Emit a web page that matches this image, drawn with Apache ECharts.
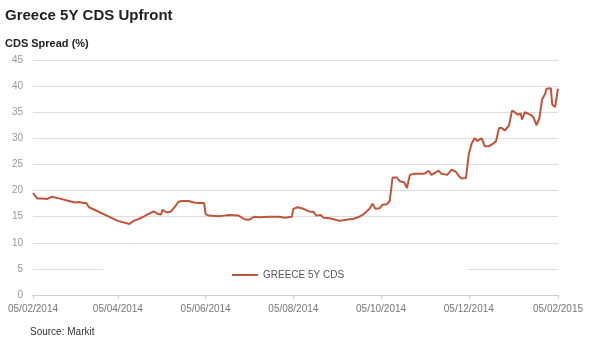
<!DOCTYPE html>
<html>
<head>
<meta charset="utf-8">
<script src="https://cdn.jsdelivr.net/npm/echarts@6/dist/echarts.min.js"></script>
<style>
html,body{margin:0;padding:0;background:#fff;}
#c{width:590px;height:346px;}
</style>
</head>
<body>
<div id="c"></div>
<script>
var dates = ['2014-02-05','2014-02-08','2014-02-09','2014-02-11','2014-02-15','2014-02-18','2014-02-23','2014-03-02','2014-03-06','2014-03-09','2014-03-12','2014-03-14','2014-03-16','2014-04-05','2014-04-13','2014-04-16','2014-04-19','2014-04-23','2014-04-26','2014-04-30','2014-05-03','2014-05-05','2014-05-06','2014-05-09','2014-05-12','2014-05-15','2014-05-17','2014-05-19','2014-05-24','2014-05-28','2014-05-31','2014-06-04','2014-06-05','2014-06-07','2014-06-14','2014-06-18','2014-06-21','2014-06-28','2014-07-02','2014-07-05','2014-07-09','2014-07-12','2014-07-19','2014-07-26','2014-07-30','2014-08-04','2014-08-05','2014-08-08','2014-08-12','2014-08-16','2014-08-19','2014-08-21','2014-08-24','2014-08-26','2014-08-30','2014-09-02','2014-09-06','2014-09-09','2014-09-13','2014-09-16','2014-09-20','2014-09-23','2014-09-27','2014-09-29','2014-10-01','2014-10-04','2014-10-06','2014-10-09','2014-10-11','2014-10-13','2014-10-16','2014-10-18','2014-10-21','2014-10-23','2014-10-25','2014-10-28','2014-11-04','2014-11-07','2014-11-09','2014-11-14','2014-11-16','2014-11-20','2014-11-23','2014-11-26','2014-11-28','2014-11-30','2014-12-03','2014-12-05','2014-12-07','2014-12-09','2014-12-11','2014-12-12','2014-12-14','2014-12-16','2014-12-19','2014-12-22','2014-12-24','2014-12-26','2014-12-28','2014-12-30','2015-01-02','2015-01-04','2015-01-06','2015-01-08','2015-01-10','2015-01-11','2015-01-13','2015-01-17','2015-01-19','2015-01-21','2015-01-23','2015-01-25','2015-01-27','2015-01-28','2015-01-31','2015-02-01','2015-02-03','2015-02-05'];
var values = [19.5,18.5,18.2,18.5,18.4,18.8,18.5,18.0,17.7,17.8,17.6,17.6,16.8,14.2,13.6,14.2,14.5,15.0,15.5,16.0,15.5,15.4,16.3,15.8,16.0,17.0,17.8,18.0,18.0,17.7,17.6,17.6,15.5,15.2,15.1,15.2,15.3,15.2,14.5,14.4,15.0,14.9,15.0,15.0,14.8,15.0,16.5,16.8,16.5,16.0,15.9,15.2,15.3,14.8,14.7,14.5,14.2,14.3,14.5,14.6,15.0,15.5,16.5,17.5,16.5,16.6,17.3,17.4,18.0,22.5,22.5,21.8,21.6,20.5,23.0,23.2,23.2,23.8,23.0,23.8,23.2,23.0,24.0,23.6,22.8,22.3,22.4,27.0,29.0,30.0,29.5,29.8,30.0,28.5,28.5,29.0,29.5,32.0,32.0,31.5,32.5,35.3,35.0,34.5,34.8,33.6,35.0,34.5,34.0,32.5,33.8,37.5,38.5,39.5,39.6,36.5,36.0,39.5];
var tickDates = ['2014-02-05','2014-04-05','2014-06-05','2014-08-05','2014-10-05','2014-12-05','2015-02-05'];
var yTicks = [0,5,10,15,20,25,30,35,40,45];

function ts(s){var p=s.split('-');return Date.UTC(+p[0],+p[1]-1,+p[2]);}
function pad(n){return (n<10?'0':'')+n;}
function fmt(v){var d=new Date(v);return pad(d.getUTCDate())+'/'+pad(d.getUTCMonth()+1)+'/'+d.getUTCFullYear();}

var seriesData = dates.map(function(d,i){return [ts(d),values[i]];});
var tickTs = tickDates.map(ts);

var chart = echarts.init(document.getElementById('c'), null, {renderer:'canvas'});
chart.setOption({
  animation:false,
  backgroundColor:'#fff',
  title:[
    {text:'Greece 5Y CDS Upfront',left:0,top:3,textStyle:{fontFamily:'Liberation Sans',fontWeight:'bold',fontSize:15,color:'#222'}},
    {text:'CDS Spread (%)',left:0,top:33,textStyle:{fontFamily:'Liberation Sans',fontWeight:'bold',fontSize:11,color:'#222'}},
    {text:'Source: Markit',left:25,top:322,textStyle:{fontFamily:'Liberation Sans',fontWeight:'normal',fontSize:10,color:'#333'}}
  ],
  grid:{left:33,right:32,top:60,bottom:51,containLabel:false},
  legend:{
    data:['GREECE 5Y CDS'],
    left:103,top:265,
    backgroundColor:'#fff',
    padding:[5,124,5,129],
    itemWidth:26,itemHeight:2,itemGap:5,
    icon:'rect',
    textStyle:{fontFamily:'Liberation Sans',fontSize:10,color:'#555'}
  },
  xAxis:{
    type:'value',
    min:tickTs[0],max:tickTs[tickTs.length-1],
    axisLine:{show:true,lineStyle:{color:'#ccc',width:1}},
    axisTick:{show:true,customValues:tickTs,length:4,lineStyle:{color:'#ccc'}},
    axisLabel:{customValues:tickTs,formatter:function(v){return fmt(v);},color:'#777',fontFamily:'Liberation Sans',fontSize:10,margin:9,hideOverlap:false,showMinLabel:true,showMaxLabel:true},
    splitLine:{show:false}
  },
  yAxis:{
    type:'value',min:yTicks[0],max:yTicks[yTicks.length-1],interval:5,
    axisLine:{show:false},axisTick:{show:false},
    axisLabel:{color:'#999',fontFamily:'Liberation Sans',fontSize:10,margin:10},
    splitLine:{lineStyle:{color:'#ddd',width:1}}
  },
  series:[{
    name:'GREECE 5Y CDS',type:'line',
    data:seriesData,
    showSymbol:false,symbol:'none',
    lineStyle:{color:'#c1533a',width:2},
    itemStyle:{color:'#c1533a'}
  }]
});
</script>
</body>
</html>
